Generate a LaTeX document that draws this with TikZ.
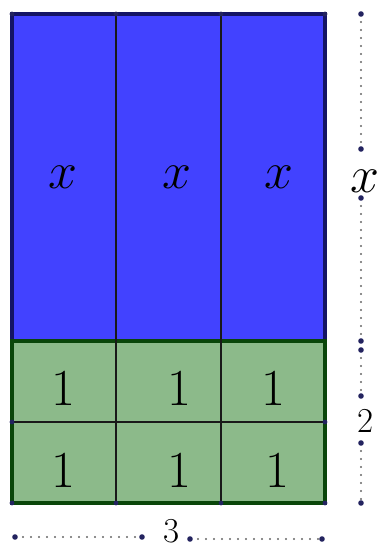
\RequirePackage{fix-cm}
\documentclass[tikz,border=0pt]{standalone}
\usepackage{xcolor}
\usepackage{tikz}
\usetikzlibrary{positioning}
\definecolor{blueFill}{RGB}{66,66,255}
\definecolor{blueEdge}{RGB}{20,20,100}
\definecolor{greenFill}{RGB}{140,186,138}
\definecolor{greenEdge}{RGB}{10,70,10}
\definecolor{ptCol}{RGB}{35,35,95}
\tikzset{
  cellline/.style={line width=1.1pt, black!90},
  dimline/.style={line width=1.1pt, gray!80!black, line cap=round, dash pattern=on 0pt off 4pt},
  biglabel/.style={font=\fontsize{26}{30}\selectfont, inner sep=0pt},
  dimlabel/.style={font=\fontsize{17.5}{21}\selectfont, inner sep=0pt},
  pt/.style={fill=ptCol}
}
\begin{document}
\begin{tikzpicture}[x=0.5pt,y=-0.5pt]
      \useasboundingbox (0,0) rectangle (383,548);
      % x part
      \filldraw[fill=blueFill, draw=blueEdge, line width=1.6pt] (12,14) rectangle (325,341);
      % unit part
      \filldraw[fill=greenFill, draw=greenEdge, line width=1.6pt] (12,341) rectangle (325,503);
      % grid
      \draw[cellline] (116,14) -- (116,503);
      \draw[cellline] (221,14) -- (221,503);
      \draw[cellline] (12,422) -- (325,422);
      % corner points
      \foreach \px/\py in {12/14,116/14,221/14,325/14,12/422,325/422,12/503,116/503,221/503,325/503}
        \fill[pt] (\px,\py) circle (1.2pt);
      % labels
      \node[biglabel] (xa) at (63,177) {$x$};
      \node[biglabel] (xb) at (177,177) {$x$};
      \node[biglabel] (xc) at (279,177) {$x$};
      \node[biglabel] (ua) at (63,388) {1};
      \node[biglabel] (ub) at (179,388) {1};
      \node[biglabel] (uc) at (273,388) {1};
      \node[biglabel] (ud) at (63,470) {1};
      \node[biglabel] (ue) at (179,470) {1};
      \node[biglabel] (uf) at (277,470) {1};
      % height x
      \coordinate (ha) at (361,14);
      \coordinate (hb) at (361,149);
      \coordinate (hc) at (361,198);
      \coordinate (hd) at (361,341);
      \node[biglabel] (hx) at (365,181) {$x$};
      \draw[dimline] (ha) -- (hb);
      \draw[dimline] (hc) -- (hd);
      % height 2
      \coordinate (ka) at (361,350);
      \coordinate (kb) at (361,396);
      \coordinate (kc) at (361,443);
      \coordinate (kd) at (361,503);
      \node[dimlabel] (k2) at (366,421) {2};
      \draw[dimline] (ka) -- (kb);
      \draw[dimline] (kc) -- (kd);
      % width 3
      \coordinate (wa) at (15,537);
      \coordinate (wb) at (142,537);
      \coordinate (wc) at (190,539);
      \coordinate (wd) at (322,539);
      \node[dimlabel] (w3) at (172,531) {3};
      \draw[dimline] (wa) -- (wb);
      \draw[dimline] (wc) -- (wd);
      % end points
      \foreach \p in {ha,hb,hc,hd,ka,kb,kc,kd,wa,wb,wc,wd}
        \fill[pt] (\p) circle (1.4pt);
\end{tikzpicture}
\end{document}
